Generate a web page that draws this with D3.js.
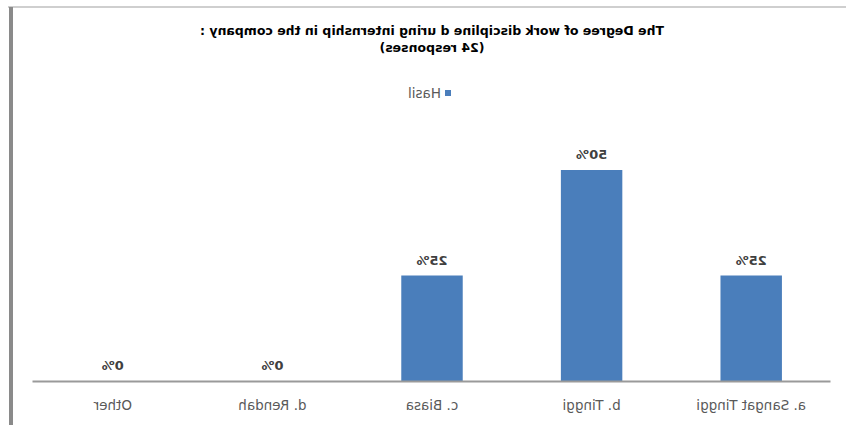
<!DOCTYPE html>
<html>
<head>
<meta charset="utf-8">
<script src="https://cdn.jsdelivr.net/npm/d3@7"></script>
<style>
	body { margin: 0; background: #fff; }
	text { font-family: 'DejaVu Sans', sans-serif; }
</style>
</head>
<body>
<svg id="canvas" width="846" height="425"></svg>
<script>
const categories = ['a. Sangat Tinggi', 'b. Tinggi', 'c. Biasa', 'd. Rendah', 'Other'];
const hasil = [0.25, 0.5, 0.25, 0, 0];
const titleLines = ['The Degree of work discipline d uring internship  in the company :', '(24 responses)'];
const seriesName = 'Hasil';

const width = 846;
const height = 425;
const barColor = '#4a7ebb';
const font = "'DejaVu Sans', sans-serif";

const svg = d3.select('#canvas');
// the reference picture is a mirror image, so the whole chart is flipped
const canvas = svg.append('g').attr('transform', `translate(${width},0) scale(-1,1)`);

// frame
canvas.append('line')
	.attr('x1', 0).attr('x2', 838).attr('y1', 7).attr('y2', 7)
	.attr('stroke', '#cfcfcf').attr('stroke-width', 2);
canvas.append('line')
	.attr('x1', 835).attr('x2', 835).attr('y1', 7).attr('y2', height)
	.attr('stroke', '#8a8a8a').attr('stroke-width', 4);

const x = d3.scaleBand().domain(categories).range([15, 813]).padding(0);
const y = d3.scaleLinear().domain([0, 0.5]).range([381, 170]);
const barW = x.bandwidth() * 0.385;

// title
canvas.append('text')
	.attr('x', 414).attr('y', 35)
	.attr('text-anchor', 'middle')
	.style('font-size', '12.5px').style('font-weight', 'bold').attr('fill', '#000')
	.selectAll('tspan')
	.data(titleLines)
	.enter()
	.append('tspan')
	.attr('x', 414)
	.attr('dy', (d, i) => (i === 0 ? 0 : 17))
	.text((d) => d);

// legend
canvas.append('rect')
	.attr('x', 395).attr('y', 90).attr('width', 6).attr('height', 6)
	.attr('fill', barColor);
canvas.append('text')
	.attr('x', 405).attr('y', 98)
	.style('font-size', '13.5px').attr('fill', '#595959')
	.text(seriesName);

// bars
canvas.selectAll('.bar')
	.data(hasil)
	.enter()
	.append('rect')
	.attr('class', 'bar')
	.attr('x', (d, i) => x(categories[i]) + (x.bandwidth() - barW) / 2)
	.attr('y', (d) => y(d))
	.attr('width', barW)
	.attr('height', (d) => y(0) - y(d))
	.attr('fill', barColor);

// value labels
canvas.selectAll('.label')
	.data(hasil)
	.enter()
	.append('text')
	.attr('class', 'label')
	.attr('x', (d, i) => x(categories[i]) + x.bandwidth() / 2)
	.attr('y', (d) => y(d) - 11)
	.attr('text-anchor', 'middle')
	.style('font-size', '13px').style('font-weight', 'bold').attr('fill', '#404040')
	.text((d) => d3.format('.0%')(d));

// x axis
const xAxis = canvas.append('g')
	.attr('transform', `translate(0,${y(0)})`)
	.call(d3.axisBottom(x).tickSize(0).tickPadding(19));
xAxis.select('.domain').attr('stroke', '#9a9a9a').attr('stroke-width', 2);
xAxis.selectAll('text')
	.style('font-size', '13.5px')
	.style('font-family', font)
	.attr('fill', '#595959');
</script>
</body>
</html>
